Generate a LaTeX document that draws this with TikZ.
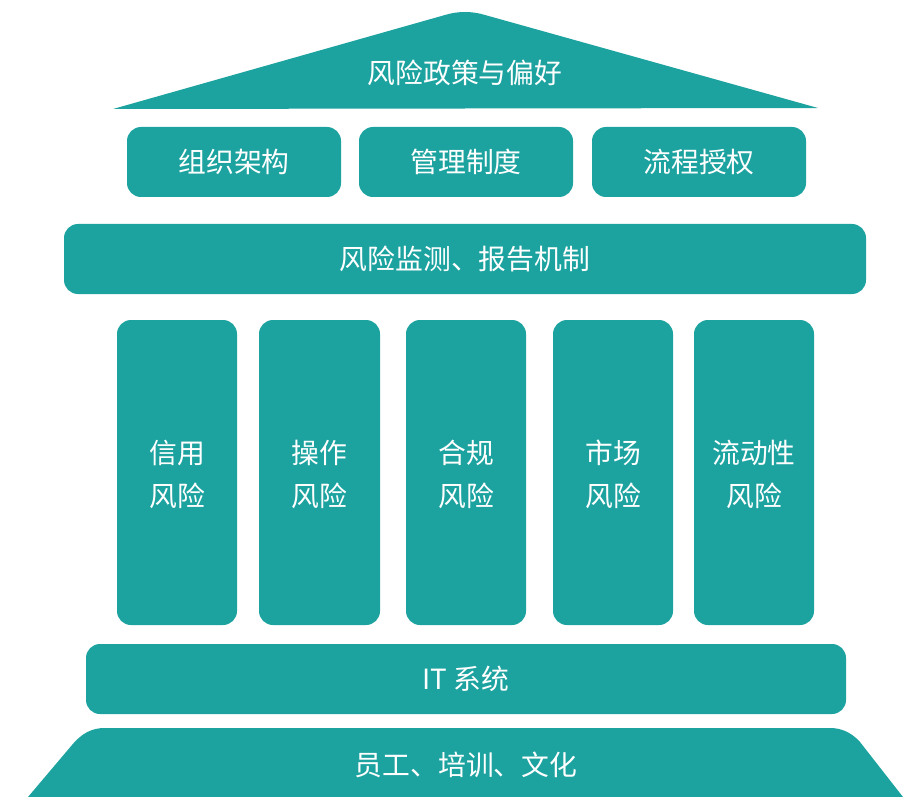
\documentclass[tikz,border=0pt]{standalone}
\usepackage{fontspec}
\setmainfont{Noto Sans CJK SC}
\begin{document}
\begin{tikzpicture}[x=1pt,y=-1pt,
  teal/.style={fill=tealc,draw=none},
  box/.style={teal,rounded corners=14pt},
  lbl/.style={text=white,font=\fontsize{27.8}{43}\selectfont,align=center,inner sep=0pt}]
\definecolor{tealc}{HTML}{1CA3A0}
\useasboundingbox (0,0) rectangle (903,797);
% roof
\fill[tealc] (113,109) -- (445,15) .. controls (458,11) and (472,11) .. (485,15) -- (818,108) -- cycle;
\node[lbl] (roof) at (465,73) {风险政策与偏好};
% top row
\fill[box] (127,127) rectangle (341,197);
\node[lbl] (org) at (234,162) {组织架构};
\fill[box] (359,127) rectangle (573,197);
\node[lbl] (mgmt) at (466,162) {管理制度};
\fill[box] (592,127) rectangle (806,197);
\node[lbl] (flow) at (699,162) {流程授权};
% band
\fill[box] (64,224) rectangle (866,294);
\node[lbl] (mon) at (465,259) {风险监测、报告机制};
% pillars
\foreach \a/\b/\t/\n in {117/237/信用/p1,259/380/操作/p2,406/526/合规/p3,553/673/市场/p4,694/814/流动性/p5}{
  \fill[box] (\a,320) rectangle (\b,625);
  \node[lbl] (\n) at ({(\a+\b)/2},474) {\t\\风险};
}
% IT
\fill[box] (86,644) rectangle (846,714);
\node[lbl] (it) at (466,679) {IT 系统};
% base
\fill[tealc] (28,797) -- (72,745) .. controls (82,733) and (92,728) .. (105,728)
  -- (830,728) .. controls (842,728) and (852,733) .. (860,742) -- (903,797) -- cycle;
\node[lbl] (base) at (466,765) {员工、培训、文化};
\end{tikzpicture}
\end{document}
